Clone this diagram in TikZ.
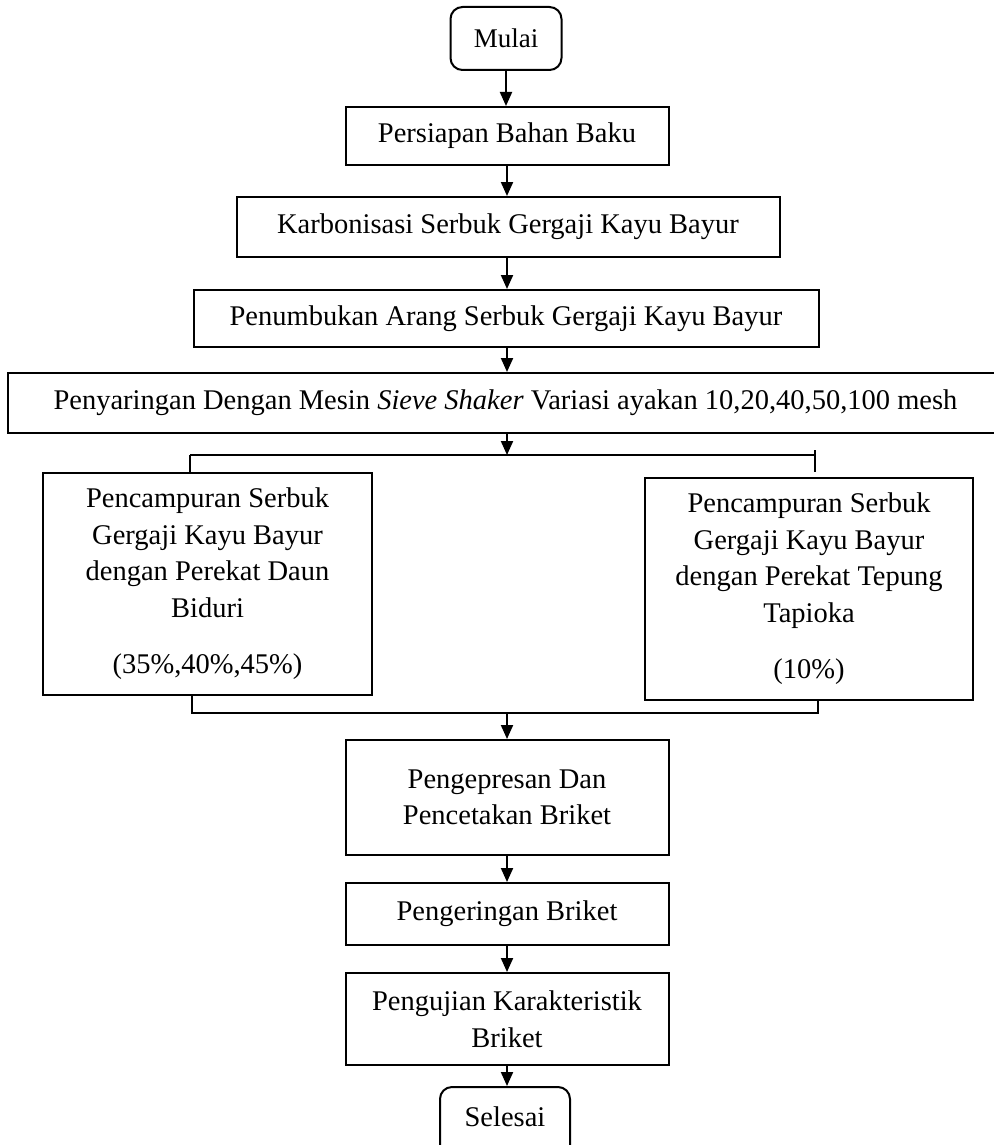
\documentclass[tikz,border=0pt]{standalone}
\usepackage{fontspec}
\setmainfont{Liberation Serif}
\usetikzlibrary{arrows.meta}
\tikzset{
  txt/.style={font=\fontsize{28.5}{36.5}\selectfont},
  box/.style={draw, line width=2pt, inner sep=0pt, align=center, txt},
  term/.style={box, rounded corners=12pt},
  arr/.style={line width=2pt, -{Triangle[length=14pt,width=12pt]}},
  ln/.style={line width=2pt}
}
\begin{document}
\begin{tikzpicture}[x=1pt,y=-1pt]
\useasboundingbox (0,0) rectangle (993,1145);
\node[term, minimum width=111pt, minimum height=63pt, font=\fontsize{27}{32}\selectfont] (mulai) at (506,38.5) {Mulai};
\node[box, minimum width=323pt, minimum height=58pt] (persiapan) at (507,136) {Persiapan Bahan Baku};
\node[box, minimum width=543pt, minimum height=60pt] (karbon) at (508,227) {Karbonisasi Serbuk Gergaji Kayu Bayur};
\node[box, minimum width=625pt, minimum height=57pt] (tumbuk) at (506,318.5) {Penumbukan Arang Serbuk Gergaji Kayu Bayur};
\node[box, minimum width=995pt, minimum height=60pt] (saring) at (505.5,403) {Penyaringan Dengan Mesin \textit{Sieve Shaker} Variasi ayakan 10,20,40,50,100 mesh};
\node[box, minimum width=329pt, minimum height=222pt] (kiri) at (207.5,584) {Pencampuran Serbuk\\Gergaji Kayu Bayur\\dengan Perekat Daun\\Biduri\\[20pt](35\%,40\%,45\%)};
\node[box, minimum width=328pt, minimum height=222pt] (kanan) at (809,589) {Pencampuran Serbuk\\Gergaji Kayu Bayur\\dengan Perekat Tepung\\Tapioka\\[20pt](10\%)};
\node[box, minimum width=323pt, minimum height=115pt] (press) at (507,797.5) {Pengepresan Dan\\Pencetakan Briket};
\node[box, minimum width=323pt, minimum height=62pt] (kering) at (507,914) {Pengeringan Briket};
\node[box, minimum width=323pt, minimum height=92pt] (uji) at (507,1019) {Pengujian Karakteristik\\Briket};
\node[term, minimum width=130pt, minimum height=80pt] (selesai) at (505,1127) {};
\node[txt] (selesaitext) at (505,1117) {Selesai};
\coordinate (split) at (507,455);
\coordinate (splitL) at (190,455);
\coordinate (splitR) at (815,455);
\coordinate (tickR) at (815,472);
\coordinate (merge) at (507,713);
\coordinate (mergeL) at (192,713);
\coordinate (mergeR) at (818,713);
\draw[arr] (mulai.south) -- (persiapan.north -| mulai.south);
\draw[arr] (persiapan.south) -- (karbon.north -| persiapan.south);
\draw[arr] (karbon.south -| persiapan.south) -- (tumbuk.north -| persiapan.south);
\draw[arr] (tumbuk.south -| persiapan.south) -- (saring.north -| persiapan.south);
\draw[arr] (saring.south -| persiapan.south) -- (split);
\draw[ln] (splitL) -- (splitR);
\draw[ln] (splitL) -- (splitL |- kiri.north);
\draw[ln] ([yshift=5pt]splitR) -- (tickR);
\draw[ln] (mergeL |- kiri.south) -- (mergeL) -- (mergeR) -- (mergeR |- kanan.south);
\draw[arr] (merge) -- (press.north -| merge);
\draw[arr] (press.south) -- (kering.north);
\draw[arr] (kering.south) -- (uji.north);
\draw[arr] (uji.south) -- (selesai.north -| uji.south);
\end{tikzpicture}
\end{document}
